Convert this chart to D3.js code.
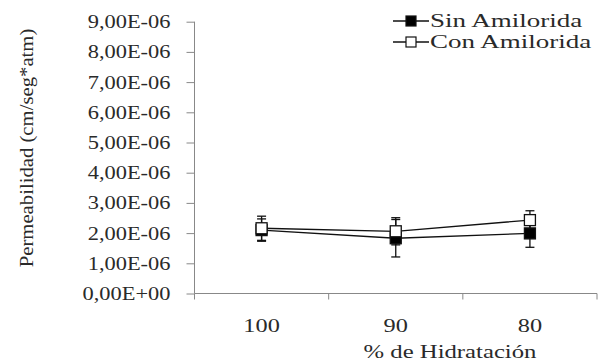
<!DOCTYPE html>
<html><head><meta charset="utf-8">
<script src="https://cdn.jsdelivr.net/npm/d3@7"></script>
<style>body{margin:0;background:#fff}svg{display:block}text{font-family:"Liberation Serif","Times New Roman",serif;fill:#2a2a2a}</style>
</head><body><svg id="c" width="599" height="361"></svg>
<script>
const categories = ["100","90","80"];
const sinValues = [2.10e-6, 1.83e-6, 1.99e-6];
const sinErrors = [0.37e-6, 0.62e-6, 0.46e-6];
const conValues = [2.16e-6, 2.06e-6, 2.43e-6];
const conErrors = [0.40e-6, 0.45e-6, 0.31e-6];
const yTicks = [0,1e-6,2e-6,3e-6,4e-6,5e-6,6e-6,7e-6,8e-6,9e-6];
const yTickLabels = ["0,00E+00","1,00E-06","2,00E-06","3,00E-06","4,00E-06","5,00E-06","6,00E-06","7,00E-06","8,00E-06","9,00E-06"];
const seriesNames = ["Sin Amilorida","Con Amilorida"];

const svg = d3.select("#c");
const x = d3.scaleBand().domain(categories).range([194.5, 597]);
const y = d3.scaleLinear().domain([0, 9e-6]).range([293.5, 21.7]);
const fs = 19;
function stretch(sel, k){
  sel.each(function(){
    const w = this.getComputedTextLength();
    d3.select(this).attr("textLength", w*k).attr("lengthAdjust","spacingAndGlyphs");
  });
}

// y axis
const ya = svg.append("g").attr("transform","translate(194.5,0)")
  .call(d3.axisLeft(y).tickValues(yTicks).tickSize(8).tickPadding(16).tickFormat((d,i)=>yTickLabels[i]));
ya.select(".domain").attr("stroke","#888").attr("d","M0,"+y(9e-6)+"V"+y(0));
ya.selectAll(".tick line").attr("stroke","#888");
ya.selectAll("text").style("font-size",fs+"px").attr("font-family",null).attr("fill","#2a2a2a").call(stretch,1.18);

// x axis
const xa = svg.append("g").attr("transform","translate(0,293.5)")
  .call(d3.axisBottom(x).tickSize(0).tickPadding(25));
xa.select(".domain").attr("stroke","#888").attr("d","M194.5,0H597");
xa.selectAll("text").style("font-size",fs+"px").attr("font-family",null).attr("fill","#2a2a2a").call(stretch,1.28);
const bounds = [194.5].concat(categories.map(c=>x(c)+x.bandwidth()));
xa.selectAll(".bt").data(bounds).enter().append("line").attr("class","bt")
  .attr("x1",d=>d).attr("x2",d=>d).attr("y1",0).attr("y2",6).attr("stroke","#888");

// titles
svg.append("text").attr("x",450).attr("y",358).attr("text-anchor","middle").style("font-size",fs+"px").text("% de Hidratación").call(stretch,1.3);
svg.append("text").attr("transform","translate(33,148) rotate(-90)").attr("text-anchor","middle").style("font-size",fs+"px").text("Permeabilidad (cm/seg*atm)").call(stretch,1.09);

const cx = c => x(c)+x.bandwidth()/2;
function drawSeries(vals, errs){
  const g = svg.append("g");
  categories.forEach((c,i)=>{
    const xc = cx(c);
    g.append("line").attr("x1",xc).attr("x2",xc).attr("y1",y(vals[i]+errs[i])).attr("y2",y(vals[i]-errs[i])).attr("stroke","#111").attr("stroke-width",1.3);
    [vals[i]+errs[i], vals[i]-errs[i]].forEach(v=>{
      g.append("line").attr("x1",xc-4.5).attr("x2",xc+4.5).attr("y1",y(v)).attr("y2",y(v)).attr("stroke","#111").attr("stroke-width",1.3);
    });
  });
  g.append("path").datum(vals).attr("fill","none").attr("stroke","#111").attr("stroke-width",1.3)
    .attr("d", d3.line().x((d,i)=>cx(categories[i])).y(d=>y(d)));
}
function drawMarkers(vals, fill){
  svg.append("g").selectAll("rect").data(vals).enter().append("rect")
    .attr("x",(d,i)=>cx(categories[i])-5.5).attr("y",d=>y(d)-5.5).attr("width",11).attr("height",11)
    .attr("fill",fill).attr("stroke","#111").attr("stroke-width",1.3);
}
drawSeries(sinValues, sinErrors);
drawSeries(conValues, conErrors);
drawMarkers(sinValues, "#000");
drawMarkers(conValues, "#fff");

// legend
const leg = svg.append("g");
[["#000",21],["#fff",42]].forEach((d,i)=>{
  leg.append("line").attr("x1",393).attr("x2",429).attr("y1",d[1]).attr("y2",d[1]).attr("stroke","#111").attr("stroke-width",1.3);
  leg.append("rect").attr("x",406).attr("y",d[1]-5).attr("width",10).attr("height",10).attr("fill",d[0]).attr("stroke","#111").attr("stroke-width",1.2);
  leg.append("text").attr("x",430).attr("y",d[1]).attr("dy","0.33em").style("font-size",fs+"px").text(seriesNames[i]).call(stretch,1.42);
});
</script></body></html>
